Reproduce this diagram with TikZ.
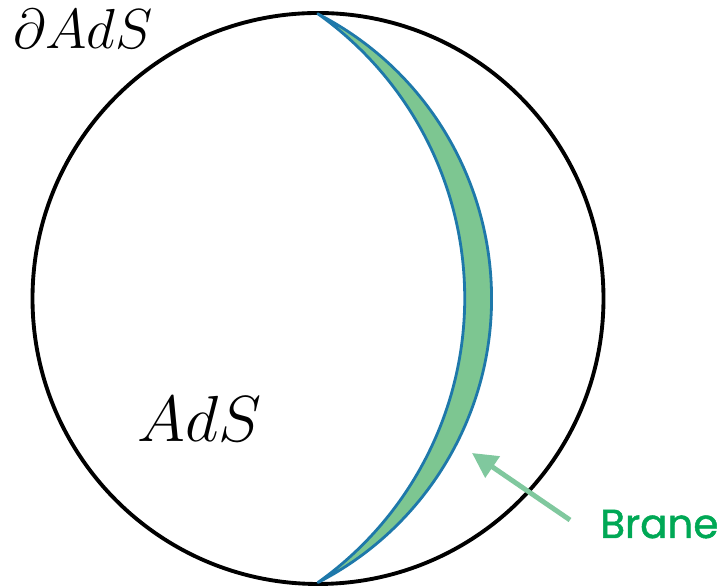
\documentclass[tikz,border=0pt]{standalone}
\usepackage{fontspec}
\newfontfamily\branefont{Poppins}[FakeBold=1.2]
\usepackage{graphicx}
\usepackage{tikz}
\usetikzlibrary{arrows.meta, positioning}
\definecolor{branefill}{RGB}{125,198,145}
\definecolor{braneedge}{RGB}{30,120,170}
\definecolor{branetxt}{RGB}{0,168,85}
\definecolor{pointcol}{RGB}{128,200,158}
\tikzset{
  bdry/.style    ={draw=black, line width=2.2pt},
  sheet/.style   ={fill=branefill, draw=braneedge, line width=1.6pt, line join=round},
  mathlbl/.style ={anchor=base west, inner sep=0pt, font=\Huge},
  branelbl/.style={anchor=base west, inner sep=0pt, text=branetxt, font=\branefont\fontsize{23}{26}\selectfont},
  pointer/.style ={-{Triangle[length=0.5cm, width=0.5cm]}, line width=2.8pt, pointcol},
}

\begin{document}
\begin{tikzpicture}[x=0.02cm, y=0.02cm]
  \useasboundingbox (0,0) rectangle (721,587);
  % AdS disc
  \coordinate (c) at (318,288.5);
  \draw[bdry] (c) circle (285.5);
  % brane: two circular arcs meeting on the boundary
  \coordinate (top) at (318,573);
  \path[sheet] (top) arc[start angle=62.8, end angle=-62.8, radius=319.6]
                     arc[start angle=-54.6, end angle=54.6, radius=348.8] -- cycle;
  % labels
  \node[mathlbl] (dads) at (13,538) {\scalebox{1.29}{$\partial AdS$}};
  \node[mathlbl] (ads) at (137,145) {\scalebox{1.49}{$AdS$}};
  \node[branelbl] (brane) at (600,49) {Brane};
  \coordinate (tail) at (570,67);
  \coordinate (tip) at (472,134);
  \draw[pointer] (tail) -- (tip);
\end{tikzpicture}
\end{document}
